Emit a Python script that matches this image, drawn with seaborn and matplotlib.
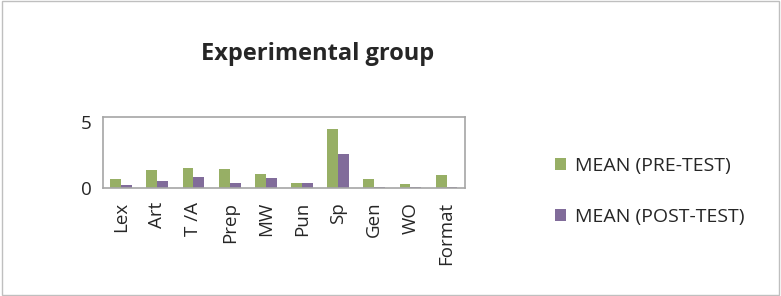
import seaborn as sns
import matplotlib.pyplot as plt
import pandas as pd

categories = ['Lex', 'Art', 'T /A', 'Prep', 'MW', 'Pun', 'Sp', 'Gen', 'WO', 'Format']
pre_test = [0.7, 1.35, 1.55, 1.45, 1.05, 0.4, 4.45, 0.65, 0.28, 1.0]
post_test = [0.25, 0.5, 0.8, 0.35, 0.75, 0.35, 2.6, 0.05, 0.05, 0.05]
series = ['MEAN (PRE-TEST)', 'MEAN (POST-TEST)']
colors = ['#9BBB59', '#8064A2']

df = pd.DataFrame({
    'category': categories * 2,
    'value': pre_test + post_test,
    'series': [series[0]] * len(categories) + [series[1]] * len(categories),
})

sns.set_style('white')
plt.rcParams['font.family'] = ['Open Sans', 'DejaVu Sans']

fig = plt.figure(figsize=(7.81, 2.96), dpi=100)
ax = fig.add_axes([0.132, 0.365, 0.463, 0.24])

sns.barplot(data=df, x='category', y='value', hue='series', palette=colors,
            width=0.6, ax=ax, edgecolor='none', legend=True)

ax.set_ylim(0, 5.4)
ax.set_yticks([0, 5])
ax.set_xlabel('')
ax.set_ylabel('')
ax.tick_params(axis='x', labelrotation=90, labelsize=13.5, length=0, pad=10)
ax.tick_params(axis='y', labelsize=13.5, length=0, pad=8)
for s in ax.spines.values():
    s.set_color('#A6A6A6')
    s.set_linewidth(1.2)

fig.text(0.407, 0.818, 'Experimental group', ha='center', va='center',
         fontsize=17, fontweight='bold')

handles, labels = ax.get_legend_handles_labels()
ax.legend(handles, labels, loc='center left', bbox_to_anchor=(1.2, -0.05),
          frameon=False, fontsize=14, handlelength=0.6, handleheight=0.6,
          handletextpad=0.45, labelspacing=1.7)

border = plt.Rectangle((0.003, 0.005), 0.994, 0.99, transform=fig.transFigure,
                       fill=False, edgecolor='#BFBFBF', linewidth=1)
fig.patches.append(border)

plt.savefig('out.png', dpi=100)
